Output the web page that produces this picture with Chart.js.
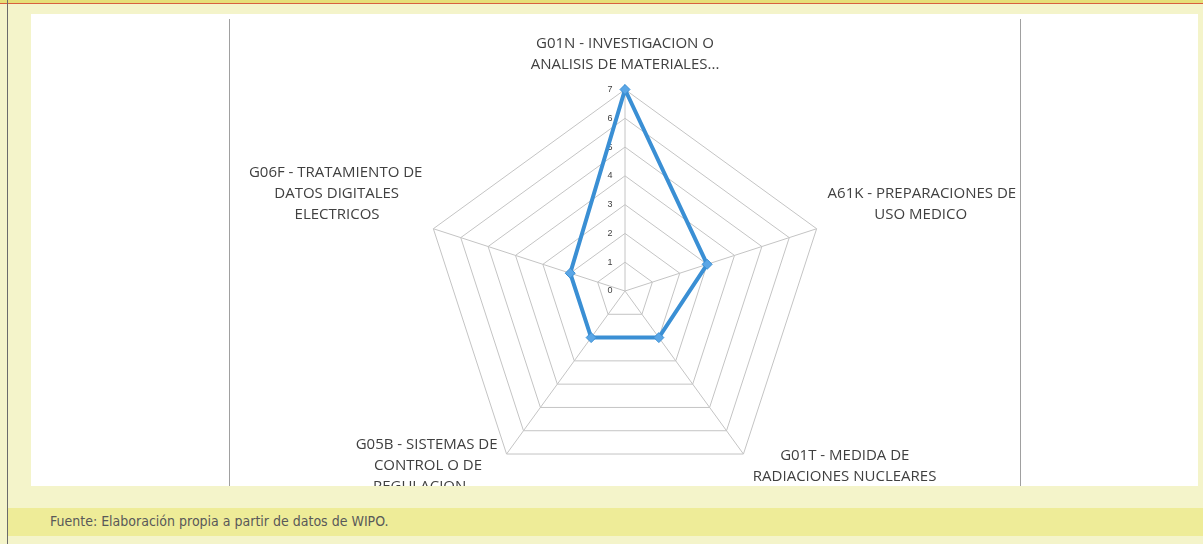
<!DOCTYPE html>
<html>
<head>
<meta charset="utf-8">
<script src="https://cdn.jsdelivr.net/npm/chart.js@4/dist/chart.umd.min.js"></script>
<style>
  html, body { margin: 0; padding: 0; }
  body { width: 1203px; height: 544px; background: #f4f4ca; position: relative; overflow: hidden; }
  #topband { position: absolute; left: 0; top: 0; width: 1203px; height: 3px; background: #e6df78; }
  #topline { position: absolute; left: 0; top: 3px; width: 1203px; height: 1px; background: #d8603e; }
  #leftline { position: absolute; left: 7px; top: 0; width: 1px; height: 544px; background: #6b6b6b; }
  #plot { position: absolute; left: 31px; top: 14px; width: 1167px; height: 472px; background: #fff; overflow: hidden; }
  .vline { position: absolute; top: 5px; width: 1px; height: 472px; background: #a0a0a0; }
  #chartbox { position: absolute; left: 94px; top: -14px; width: 1000px; height: 560px; }
  #footer { position: absolute; left: 8px; top: 508px; width: 1195px; height: 28px; background: #eeec98; }
  #footer span { position: absolute; left: 42px; top: 5px; font-family: "Liberation Sans Narrow", "DejaVu Sans Condensed", sans-serif; font-size: 14px; color: #595959; }
</style>
</head>
<body>
<div id="topband"></div>
<div id="topline"></div>
<div id="leftline"></div>
<div id="plot">
  <div class="vline" style="left:198px"></div>
  <div class="vline" style="left:989px"></div>
  <div id="chartbox"><canvas id="radarChart"></canvas></div>
</div>
<div id="footer"><span>Fuente: Elaboración propia a partir de datos de WIPO.</span></div>

<script>
// categories (clockwise from the top)
const categories = [
  ['G01N - INVESTIGACION O', 'ANALISIS DE MATERIALES...'],
  ['A61K - PREPARACIONES DE', 'USO MEDICO'],
  ['G01T - MEDIDA DE', 'RADIACIONES NUCLEARES'],
  ['G05B - SISTEMAS DE', 'CONTROL O DE', 'REGULACION...'],
  ['G06F - TRATAMIENTO DE', 'DATOS DIGITALES', 'ELECTRICOS']
]
const values = [7, 3, 2, 2, 2]
const tickMin = 0
const tickMax = 7

const labelFont = { family: 'Open Sans', size: 15, lineHeight: 1.4 }
// label placement tweaks: distance from the outer ring, and extra spaces (+ before / - after)
const labelPad = [8, 5, -17, -31, 5]
const labelNudge = [0, 0, 4, -6, 0]

// pad the shorter lines with spaces on both sides so every label block reads centred
function centerLines(lines, i){
    const m = document.createElement('canvas').getContext('2d')
    m.font = labelFont.size + 'px "' + labelFont.family + '"'
    const widest = Math.max(...lines.map(l => m.measureText(l).width))
    const sp = m.measureText(' ').width
    const k = labelNudge[i]
    return lines.map(function(l){
        const n = Math.round((widest - m.measureText(l).width) / 2 / sp)
        return ' '.repeat(n + Math.max(k, 0)) + l + ' '.repeat(n + Math.max(-k, 0))
    })
}

const ctx = document.getElementById('radarChart').getContext('2d')
const myChart = new Chart(ctx, {
    type: 'radar',
    data: {
        labels: categories.map(centerLines),
        datasets: [{
            label: 'Patentes',
            data: values,
            borderColor: '#3a8fd4',
            borderWidth: 4,
            backgroundColor: 'rgba(0,0,0,0)',
            fill: false,
            pointStyle: 'rectRot',
            pointRadius: 5,
            pointBackgroundColor: '#5aa6e6',
            pointBorderColor: '#3a8fd4',
            pointBorderWidth: 1
        }]
    },
    options: {
        responsive: true,
        maintainAspectRatio: false,
        animation: false,
        layout: { padding: { top: 8, bottom: 35 } },
        plugins: {
            legend: { display: false },
            tooltip: { enabled: false }
        },
        scales: {
            r: {
                // a hair below zero so the "0" tick label is still drawn
                min: tickMin - 0.001,
                max: tickMax,
                grid: { color: '#c4c4c4', lineWidth: 1 },
                angleLines: { color: '#c4c4c4', lineWidth: 1 },
                ticks: {
                    stepSize: 1,
                    includeBounds: false,
                    showLabelBackdrop: false,
                    color: '#404040',
                    font: { family: 'Liberation Sans', size: 9 },
                    // push the number to the left of the vertical axis
                    callback: function(v){ return Math.round(v) + '\u2007\u2007\u2007\u2007\u2007\u2007' }
                },
                pointLabels: {
                    color: '#404040',
                    padding: function(c){ return labelPad[c.index] },
                    font: labelFont
                }
            }
        }
    }
})
</script>
</body>
</html>
